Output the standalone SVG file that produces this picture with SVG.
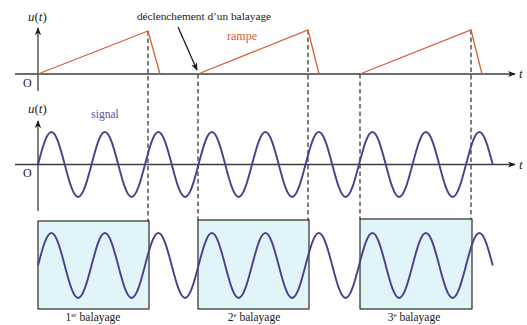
<svg xmlns="http://www.w3.org/2000/svg" width="527" height="325" viewBox="0 0 527 325">
<style>
.ax{stroke:#3c3c3c;stroke-width:1.3;fill:none}
.dash{stroke:#2e2a22;stroke-width:1.2;stroke-dasharray:4.5 3;fill:none}
.ramp{stroke:#d4603c;stroke-width:1.3;fill:none}
.sig{stroke:#4b3f8c;stroke-width:1.9;fill:none}
.box{fill:#e0f5f7;stroke:#2a2a2a;stroke-width:1.2}
.lbl{fill:#1a1a1a}
.it{font-style:italic}
</style>
<defs>
<marker id="arr" viewBox="0 0 10 10" refX="9" refY="5" markerWidth="8" markerHeight="8" markerUnits="userSpaceOnUse" orient="auto">
<path d="M0,1 L10,5 L0,9 L3,5 Z" fill="#1a1a1a"/>
</marker>
<path id="sine" d="M38,0 c4.36,-16.6 8.53,-32.5 13.375,-32.5 s9.01,16 13.375,32.5 s8.53,32.5 13.375,32.5 s9.01,-16 13.375,-32.5 s8.53,-32.5 13.375,-32.5 s9.01,16 13.375,32.5 s8.53,32.5 13.375,32.5 s9.01,-16 13.375,-32.5 s8.53,-32.5 13.375,-32.5 s9.01,16 13.375,32.5 s8.53,32.5 13.375,32.5 s9.01,-16 13.375,-32.5 s8.53,-32.5 13.375,-32.5 s9.01,16 13.375,32.5 s8.53,32.5 13.375,32.5 s9.01,-16 13.375,-32.5 s8.53,-32.5 13.375,-32.5 s9.01,16 13.375,32.5 s8.53,32.5 13.375,32.5 s9.01,-16 13.375,-32.5 s8.53,-32.5 13.375,-32.5 s9.01,16 13.375,32.5 s8.53,32.5 13.375,32.5 s9.01,-16 13.375,-32.5 s8.53,-32.5 13.375,-32.5 s9.01,16 13.375,32.5 s8.53,32.5 13.375,32.5 s9.01,-16 13.375,-32.5 s8.53,-32.5 13.375,-32.5 s9.01,16 13.375,32.5 s8.53,32.5 13.375,32.5 s9.01,-16 13.375,-32.5 s8.53,-32.5 13.375,-32.5 s9.01,16 13.375,32.5"/>
</defs>

<g id="boxes">
<rect id="box1" class="box" x="38" y="221" width="111" height="88"/>
<rect id="box2" class="box" x="198" y="220" width="111" height="89"/>
<rect id="box3" class="box" x="360" y="219" width="112" height="90"/>
</g>

<g id="axes">
<line class="ax" x1="15" y1="74" x2="515" y2="74" marker-end="url(#arr)"/>
<line class="ax" x1="38" y1="91" x2="38" y2="28" marker-end="url(#arr)"/>
<line class="ax" x1="15" y1="164.5" x2="515" y2="164.5" marker-end="url(#arr)"/>
<line class="ax" x1="38" y1="211" x2="38" y2="121" marker-end="url(#arr)"/>
</g>

<g id="connectors">
<line class="dash" x1="148" y1="31" x2="148" y2="221"/>
<line class="dash" x1="198" y1="74" x2="198" y2="220"/>
<line class="dash" x1="308" y1="30" x2="308" y2="220"/>
<line class="dash" x1="360" y1="74" x2="360" y2="219"/>
<line class="dash" x1="471" y1="30" x2="471" y2="219"/>
<line x1="178" y1="27" x2="197" y2="70" stroke="#1a1a1a" stroke-width="1.3" marker-end="url(#arr)"/>
</g>

<g id="ramp">
<polyline class="ramp" points="38,74 148,31 160,74"/>
<polyline class="ramp" points="198,74 308,30 319,74"/>
<polyline class="ramp" points="360,74 471,30 482,74"/>
</g>

<g id="signal">
<use href="#sine" class="sig" transform="translate(0,164.5)"/>
<use href="#sine" class="sig" transform="translate(0,265.5)"/>
</g>

<g id="labels" class="lbl" font-family="'Liberation Serif', 'Times New Roman', serif">
<text x="28" y="21" font-size="13"><tspan class="it">u</tspan>(<tspan class="it">t</tspan>)</text>
<text x="23" y="87" font-size="12">O</text>
<text x="519" y="78" font-size="13" class="it">t</text>
<text x="204" y="20" font-size="11.3" text-anchor="middle">déclenchement d’un balayage</text>
<text x="242" y="40" font-size="12" text-anchor="middle" fill="#d4603c">rampe</text>
<text x="28" y="113" font-size="13"><tspan class="it">u</tspan>(<tspan class="it">t</tspan>)</text>
<text x="23" y="177" font-size="12">O</text>
<text x="519" y="169" font-size="13" class="it">t</text>
<text x="105" y="118" font-size="11.5" text-anchor="middle" fill="#5a50a0">signal</text>
<text x="93" y="321" font-size="11.5" text-anchor="middle">1<tspan font-size="7" dy="-4">er</tspan><tspan dy="4"> balayage</tspan></text>
<text x="254" y="321" font-size="11.5" text-anchor="middle">2<tspan font-size="7" dy="-4">e</tspan><tspan dy="4"> balayage</tspan></text>
<text x="414" y="321" font-size="11.5" text-anchor="middle">3<tspan font-size="7" dy="-4">e</tspan><tspan dy="4"> balayage</tspan></text>
</g>
</svg>
